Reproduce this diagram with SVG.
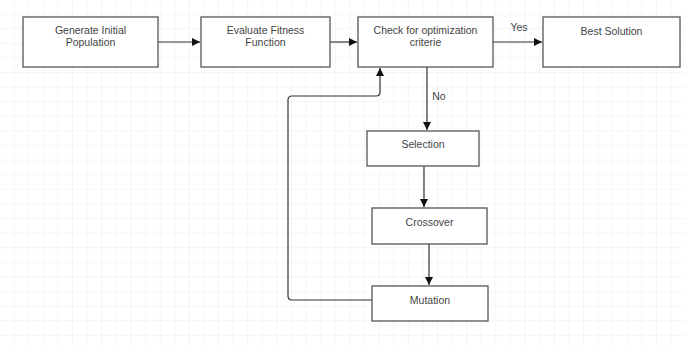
<svg xmlns="http://www.w3.org/2000/svg" width="685" height="347" viewBox="0 0 685 347">
<style>
.box{fill:#fff;stroke:#555;stroke-width:1.3}
.t{font-family:"Liberation Sans",Arial,sans-serif;font-size:10.5px;fill:#444;text-anchor:middle}
.c{fill:none;stroke:#333;stroke-width:1.2}
</style>
<defs>
<pattern id="grid" width="14.6" height="14.6" patternUnits="userSpaceOnUse">
<path d="M14.6 0V14.6H0" fill="none" stroke="#ececec" stroke-width="1"/>
</pattern>
<marker id="ah" viewBox="0 0 10 10" refX="10" refY="5" markerWidth="8" markerHeight="8" markerUnits="userSpaceOnUse" orient="auto">
<path d="M0 0L10 5L0 10z" fill="#111"/>
</marker>
</defs>
<rect width="685" height="347" fill="#fff"/>
<rect width="685" height="347" fill="url(#grid)"/>
<g id="connectors">
<path class="c" d="M158 42H200" marker-end="url(#ah)"/>
<path class="c" d="M330 42H357" marker-end="url(#ah)"/>
<path class="c" d="M493 42H542" marker-end="url(#ah)"/>
<path class="c" d="M427 67V130" marker-end="url(#ah)"/>
<path class="c" d="M424 166V207" marker-end="url(#ah)"/>
<path class="c" d="M429 244V285" marker-end="url(#ah)"/>
<path class="c" d="M372 300H292Q288 300 288 296V100Q288 96 292 96H376Q380 96 380 92V68" marker-end="url(#ah)"/>
<text class="t" x="519" y="31">Yes</text>
<text class="t" x="439" y="100">No</text>
</g>
<g id="generate"><rect class="box" x="23" y="17" width="135" height="50"/><text class="t" x="90.5" y="34">Generate Initial</text><text class="t" x="90.5" y="46">Population</text></g>
<g id="evaluate"><rect class="box" x="201" y="17" width="129" height="50"/><text class="t" x="265.5" y="34">Evaluate Fitness</text><text class="t" x="265.5" y="46">Function</text></g>
<g id="check"><rect class="box" x="358" y="17" width="135" height="50"/><text class="t" x="425.5" y="34">Check for optimization</text><text class="t" x="425.5" y="46">criterie</text></g>
<g id="best"><rect class="box" x="543" y="17" width="137" height="50"/><text class="t" x="611.5" y="35">Best Solution</text></g>
<g id="selection"><rect class="box" x="367" y="131" width="112" height="35"/><text class="t" x="423" y="148">Selection</text></g>
<g id="crossover"><rect class="box" x="372" y="208" width="115" height="36"/><text class="t" x="429.5" y="226">Crossover</text></g>
<g id="mutation"><rect class="box" x="372" y="286" width="116" height="35"/><text class="t" x="430" y="304">Mutation</text></g>
</svg>
